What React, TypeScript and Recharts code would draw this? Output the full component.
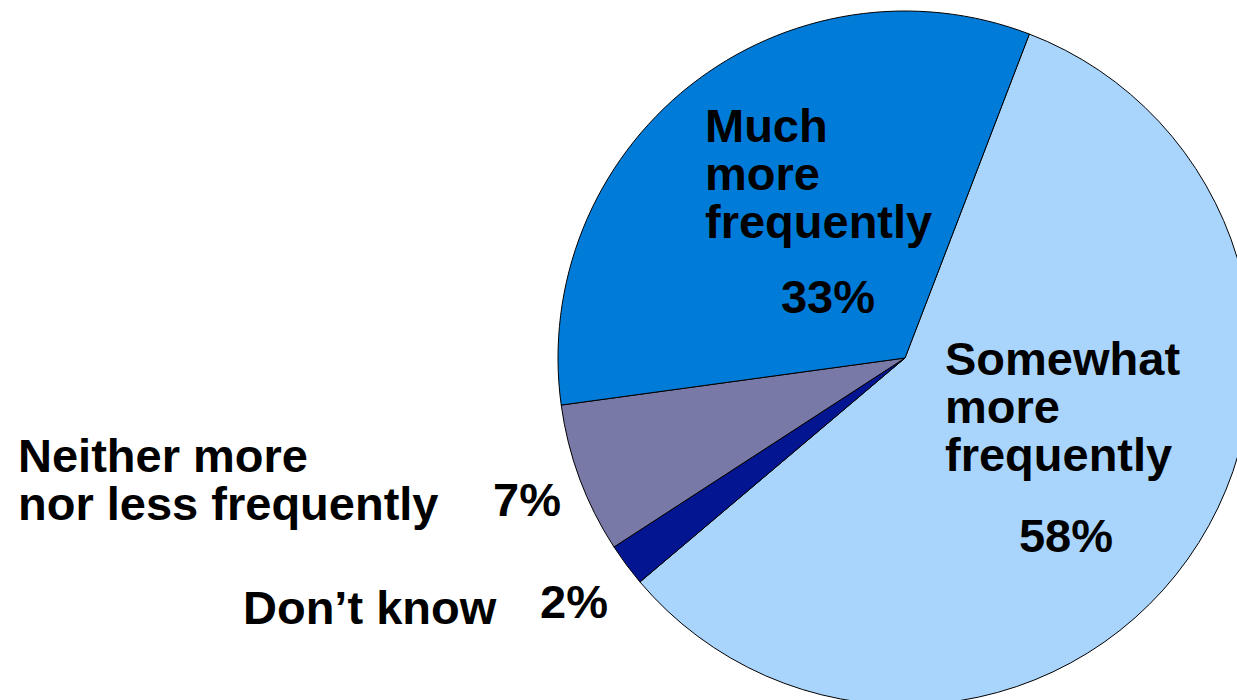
import { PieChart, Pie, Cell } from 'recharts';

// Share of respondents per answer, clockwise from the top boundary
const answers = ['Somewhat more frequently', 'Don’t know', 'Neither more nor less frequently', 'Much more frequently'];
const shares = [58, 2, 7, 33];
const sliceColors = ['#A9D5FD', '#031590', '#7979A7', '#007BD8'];

// How each answer's caption is broken across lines
const captionLines = [
  ['Somewhat', 'more', 'frequently'],
  ['Don’t know'],
  ['Neither more', 'nor less frequently'],
  ['Much', 'more', 'frequently'],
];

// Caption placement: text block (left x, first baseline) and the percent label
const captionPos = [
  { x: 945, y: 375, px: 1066, py: 552, pAnchor: 'middle' },
  { x: 243, y: 624, px: 540, py: 618, pAnchor: 'start' },
  { x: 18, y: 472, px: 493, py: 516, pAnchor: 'start' },
  { x: 705, y: 142, px: 828, py: 313, pAnchor: 'middle' },
];

const data = answers.map((name, i) => ({ name, value: shares[i] }));

const LINE_GAP = 48;
const fontStyle = { fontFamily: 'Arial, "Liberation Sans", sans-serif', fontWeight: 700, fontSize: 47 };

const renderCaption = (props: any) => {
  const i = props.index;
  const pos = captionPos[i];
  return (
    <g key={`cap-${i}`}>
      <text x={pos.x} y={pos.y} fill="#000" style={fontStyle}>
        {captionLines[i].map((line, j) => (
          <tspan key={j} x={pos.x} y={pos.y + j * LINE_GAP}>
            {line}
          </tspan>
        ))}
      </text>
      <text x={pos.px} y={pos.py} textAnchor={pos.pAnchor} fill="#000" style={fontStyle}>
        {`${shares[i]}%`}
      </text>
    </g>
  );
};

export default function App() {
  return (
    <div style={{ position: 'absolute', left: 0, top: 0, width: 1237, height: 700, background: '#fff', overflow: 'hidden' }}>
      <PieChart width={1237} height={700} margin={{ top: 0, right: 0, bottom: 0, left: 0 }}>
        <Pie
          data={data}
          dataKey="value"
          nameKey="name"
          cx={905}
          cy={358}
          outerRadius={347}
          startAngle={69}
          endAngle={-291}
          stroke="#000"
          strokeWidth={1}
          label={renderCaption}
          labelLine={false}
          isAnimationActive={false}
        >
          {data.map((entry, i) => (
            <Cell key={entry.name} fill={sliceColors[i]} />
          ))}
        </Pie>
      </PieChart>
    </div>
  );
}
